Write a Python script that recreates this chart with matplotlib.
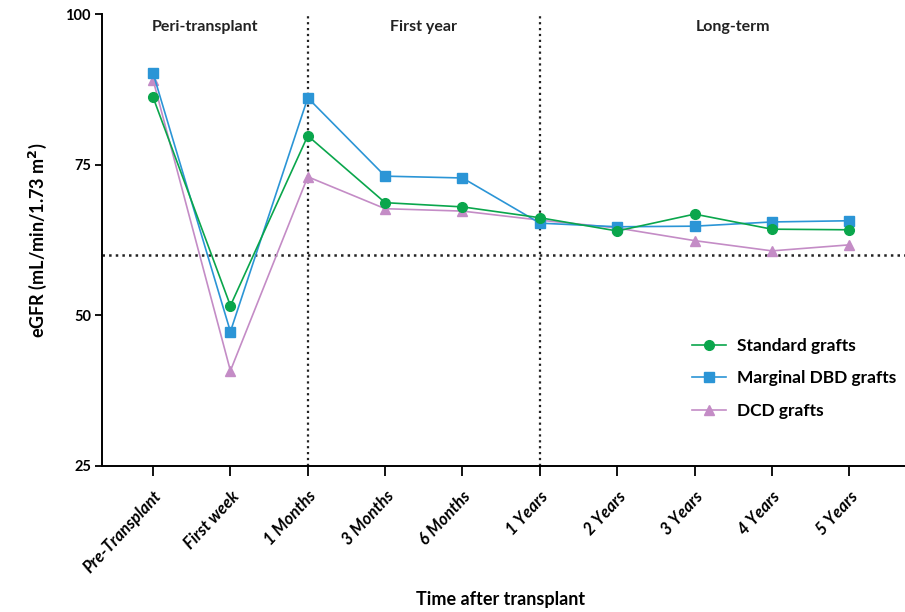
import numpy as np
import matplotlib.pyplot as plt

plt.rcParams['font.family'] = ['Lato', 'DejaVu Sans']

timepoints = ["Pre-Transplant", "First week", "1 Months", "3 Months", "6 Months",
              "1 Years", "2 Years", "3 Years", "4 Years", "5 Years"]
standard = [86.2, 51.6, 79.8, 68.7, 68.0, 66.2, 64.0, 66.8, 64.3, 64.2]
marginal = [90.2, 47.3, 86.1, 73.1, 72.8, 65.3, 64.7, 64.8, 65.5, 65.7]
dcd = [89.1, 40.8, 73.0, 67.7, 67.3, 65.8, 64.5, 62.4, 60.7, 61.7]
phases = ["Peri-transplant", "First year", "Long-term"]
phase_x = [0.67, 3.5, 7.5]

fig = plt.figure(figsize=(9.05, 6.12), dpi=100)
ax = fig.add_axes([0.1127, 0.2386, 0.8873, 0.7384])

x = np.arange(len(timepoints))
ax.plot(x, standard, color="#0aa64c", marker="o", ms=7, lw=1.2, label="Standard grafts", zorder=4)
ax.plot(x, marginal, color="#2b95d6", marker="s", ms=7, lw=1.2, label="Marginal DBD grafts", zorder=3)
ax.plot(x, dcd, color="#c48cc6", marker="^", ms=7, lw=1.2, label="DCD grafts", zorder=2)

ax.axhline(60, color="#222222", ls=":", lw=1.8, zorder=1)
ax.axvline(2, color="#222222", ls=":", lw=1.6, zorder=1)
ax.axvline(5, color="#222222", ls=":", lw=1.6, zorder=1)

for px, name in zip(phase_x, phases):
    ax.text(px, 97.8, name, ha="center", va="center", fontsize=11.5, fontweight="bold", color="#222222")

ax.set_xlim(-0.66, 9.72)
ax.set_ylim(25, 100)
ax.set_yticks([25, 50, 75, 100])
ax.set_xticks(x)
ax.set_xticklabels(timepoints, rotation=47, ha="right", rotation_mode="anchor",
                   fontsize=12, fontweight="bold", fontstyle="italic")
for lab in ax.get_yticklabels():
    lab.set_fontsize(10.5)
    lab.set_fontweight("bold")
ax.tick_params(axis="x", direction="out", length=7, width=1.3, pad=9)
ax.tick_params(axis="y", direction="out", length=5, width=1.3, pad=3)

ax.spines["top"].set_visible(False)
ax.spines["right"].set_visible(False)
ax.spines["left"].set_linewidth(1.4)
ax.spines["bottom"].set_linewidth(1.4)

fig.text(0.553, 1 - 600 / 612, "Time after transplant", ha="center", va="center",
         fontsize=13, fontweight="bold")
ax.set_ylabel("eGFR (mL/min/1.73 m$^\\mathbf{2}$)", fontsize=13, fontweight="bold", labelpad=12)

leg = ax.legend(loc="upper left", bbox_to_anchor=(0.715, 0.318), frameon=False,
                prop={"size": 12.5, "weight": "bold"}, handlelength=2.0, handletextpad=0.6,
                labelspacing=0.95)

plt.savefig("out.png", dpi=100)
